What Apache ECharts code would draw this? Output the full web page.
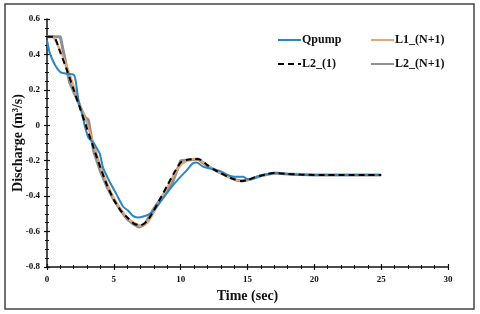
<!DOCTYPE html>
<html><head><meta charset="utf-8">
<script src="https://cdn.jsdelivr.net/npm/echarts@6/dist/echarts.min.js"></script>
<style>html,body{margin:0;padding:0;background:#fff}#c{width:480px;height:314px}</style>
</head><body><div id="c"></div>
<script>
// Qpump
const tQpump = [0,0.2,0.6,1.0,1.5,2.0,2.15,2.35,2.6,2.85,3.1,3.5,3.8,3.95,4.2,4.7,5.2,5.7,6.05,6.4,6.8,7.2,7.7,8.2,8.7,9.3,10.0,10.5,10.9,11.2,11.7,12.3,13.0,13.5,14.0,14.7,15.0,15.4,15.9,16.5,17.2,18,19,20,21,22,23,24,25];
const vQpump = [0.48,0.41,0.34,0.30,0.29,0.285,0.25,0.14,0.07,-0.01,-0.07,-0.10,-0.14,-0.16,-0.24,-0.32,-0.39,-0.46,-0.48,-0.51,-0.52,-0.515,-0.50,-0.46,-0.41,-0.35,-0.29,-0.25,-0.215,-0.21,-0.235,-0.245,-0.26,-0.28,-0.29,-0.29,-0.305,-0.30,-0.285,-0.275,-0.27,-0.275,-0.28,-0.28,-0.28,-0.28,-0.28,-0.28,-0.28];
// L1_(N+1)
const tL1 = [0,0.4,1.0,1.5,2.0,2.5,3.0,3.5,4.0,4.5,5.0,5.5,6.0,6.5,7.0,7.5,8.0,8.5,9.0,9.5,10.0,10.5,11.0,11.5,12.0,12.5,13.0,13.5,14.0,14.5,15.0,15.5,16.0,16.5,17.0,18,19,20,21,22,23,24,25];
const vL1 = [0.5,0.5,0.42,0.33,0.22,0.11,0.01,-0.11,-0.23,-0.33,-0.41,-0.47,-0.52,-0.55,-0.565,-0.55,-0.49,-0.42,-0.35,-0.28,-0.225,-0.20,-0.19,-0.20,-0.225,-0.25,-0.27,-0.29,-0.305,-0.315,-0.31,-0.295,-0.285,-0.275,-0.27,-0.275,-0.278,-0.28,-0.28,-0.28,-0.28,-0.28,-0.28];
// L2_(1)
const tL21 = [0,0.5,1.0,1.5,2.0,2.5,3.0,3.5,4.0,4.5,5.0,5.5,6.0,6.5,7.0,7.5,8.0,8.5,9.0,9.5,10.0,10.5,11.0,11.5,12.0,12.5,13.0,13.5,14.0,14.5,15.0,15.5,16.0,16.5,17.0,18,19,20,21,22,23,24,25];
const vL21 = [0.5,0.5,0.41,0.31,0.20,0.09,-0.02,-0.13,-0.24,-0.34,-0.42,-0.48,-0.52,-0.555,-0.565,-0.54,-0.48,-0.41,-0.34,-0.27,-0.21,-0.195,-0.19,-0.195,-0.225,-0.25,-0.27,-0.29,-0.305,-0.315,-0.31,-0.295,-0.285,-0.275,-0.27,-0.275,-0.278,-0.28,-0.28,-0.28,-0.28,-0.28,-0.28];
// L2_(N+1)
const tL2N = [0,1.0,1.7,2.6,2.85,3.1,3.5,4.0,4.5,5.0,5.5,6.0,6.5,6.9,7.3,8.0,9.0,9.35,10.0,11.3,12.0,13.0,14.2,14.6,15.2,16,17,18,20,22,25];
const vL2N = [0.5,0.5,0.24,0.085,0.045,0.03,-0.15,-0.26,-0.35,-0.42,-0.48,-0.53,-0.56,-0.575,-0.56,-0.47,-0.36,-0.33,-0.20,-0.19,-0.23,-0.27,-0.31,-0.315,-0.305,-0.285,-0.27,-0.275,-0.28,-0.28,-0.28];

const xTicks = [0,5,10,15,20,25,30];
const yTicks = [-0.8,-0.6,-0.4,-0.2,0,0.2,0.4,0.6];

const pair = (t,v) => t.map((x,i)=>[x,v[i]]);
const serif = '"Liberation Serif", "Times New Roman", serif';
const chart = echarts.init(document.getElementById('c'));
const lab = {fontFamily: serif, fontWeight: 'bold', fontSize: 9, color: '#111'};
const legText = {fontFamily: serif, fontWeight: 'bold', fontSize: 12, color: '#111', padding: [0,0,0,-4]};
chart.setOption({
  animation: false,
  grid: {left: 47, right: 32, top: 19, bottom: 47, outerBoundsMode: 'none', containLabel: false},
  legend: [
    {data: ['Qpump','L2_(1)'], left: 272, top: 29, orient: 'vertical', itemWidth: 23, itemHeight: 10, itemGap: 12,
     itemStyle: {opacity: 0}, textStyle: legText},
    {data: ['L1_(N+1)','L2_(N+1)'], left: 365, top: 29, orient: 'vertical', itemWidth: 23, itemHeight: 10, itemGap: 12,
     itemStyle: {opacity: 0}, textStyle: legText}
  ],
  xAxis: [{
    type: 'value', min: 0, max: 30, interval: 5,
    name: 'Time (sec)', nameLocation: 'middle', nameGap: 21,
    nameTextStyle: {fontFamily: serif, fontWeight: 'bold', fontSize: 14, color: '#111'},
    axisLine: {onZero: false, lineStyle: {color: '#111', width: 1.5}},
    axisTick: {length: 3, lineStyle: {color: '#111', width: 1.2}},
    minorTick: {show: true, splitNumber: 5, length: 2, lineStyle: {color: '#111', width: 1}},
    splitLine: {show: false},
    axisLabel: Object.assign({margin: 8}, lab)
  },{
    type: 'value', min: 0, max: 30, interval: 5, position: 'bottom',
    axisLine: {show: false, onZero: false}, axisLabel: {show: false}, splitLine: {show: false},
    axisTick: {inside: true, length: 3, lineStyle: {color: '#111', width: 1.2}},
    minorTick: {show: true, splitNumber: 5, length: 2, lineStyle: {color: '#111', width: 1}}
  }],
  yAxis: [{
    type: 'value', min: -0.8, max: 0.6, interval: 0.2,
    name: 'Discharge (m³/s)', nameLocation: 'middle', nameGap: 22, nameMoveOverlap: false,
    nameTextStyle: {fontFamily: serif, fontWeight: 'bold', fontSize: 14, color: '#111'},
    axisLine: {show: true, onZero: false, lineStyle: {color: '#111', width: 1.5}},
    axisTick: {show: true, length: 3, lineStyle: {color: '#111', width: 1.2}},
    minorTick: {show: true, splitNumber: 4, length: 2, lineStyle: {color: '#111', width: 1}},
    splitLine: {show: false},
    axisLabel: Object.assign({margin: 7, formatter: v => (Math.abs(v) < 1e-9 ? '0' : String(Math.round(v*10)/10))}, lab)
  },{
    type: 'value', min: -0.8, max: 0.6, interval: 0.2, position: 'left',
    axisLine: {show: false, onZero: false}, axisLabel: {show: false}, splitLine: {show: false},
    axisTick: {show: true, inside: true, length: 3, lineStyle: {color: '#111', width: 1.2}},
    minorTick: {show: true, splitNumber: 4, length: 2, lineStyle: {color: '#111', width: 1}}
  }],
  series: [
    {name: 'L2_(N+1)', type: 'line', data: pair(tL2N, vL2N), symbol: 'none', z: 2,
     lineStyle: {color: '#8f8f8f', width: 3}, itemStyle: {color: '#8f8f8f'}},
    {name: 'L1_(N+1)', type: 'line', data: pair(tL1, vL1), symbol: 'none', z: 3, smooth: 0.2,
     lineStyle: {color: '#e0a774', width: 2.2}, itemStyle: {color: '#e0a774'}},
    {name: 'Qpump', type: 'line', data: pair(tQpump, vQpump), symbol: 'none', z: 4, smooth: 0.2,
     lineStyle: {color: '#2c86bf', width: 2}, itemStyle: {color: '#2c86bf'}},
    {name: 'L2_(1)', type: 'line', data: pair(tL21, vL21), symbol: 'none', z: 5, smooth: 0.2,
     lineStyle: {color: '#000', width: 2, type: [6,4]}, itemStyle: {color: '#000'}}
  ],
  graphic: [{type: 'rect', shape: {x: 5, y: 4, width: 469, height: 305}, silent: true,
    style: {fill: 'none', stroke: '#444', lineWidth: 1.5}}]
});
</script></body></html>
